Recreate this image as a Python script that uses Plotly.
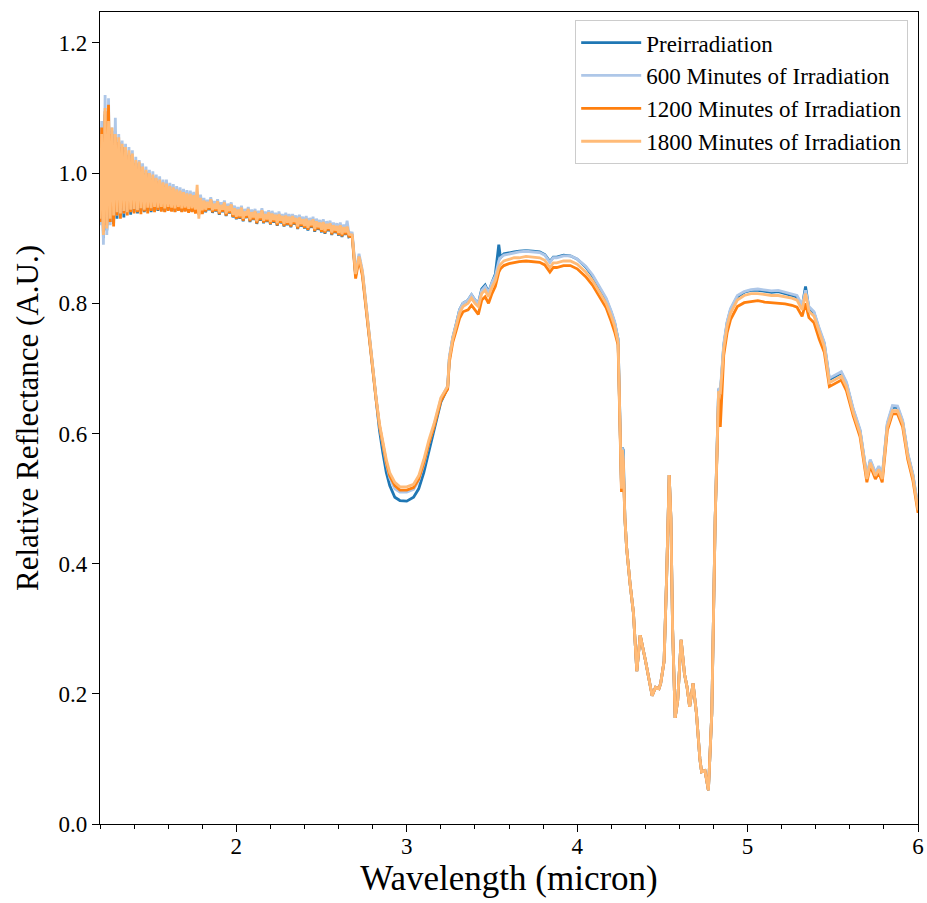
import numpy as np
import plotly.graph_objects as go

# ---------------- data ----------------
# wavelength sampling grids (micron)
wl_a = np.round(np.arange(1.20, 1.805, 0.01), 3)   # 61 points, noisy start
wl_b = np.round(np.arange(1.81, 2.665, 0.01), 3)   # 86 points
wl_c = [2.68, 2.70, 2.72, 2.74, 2.76, 2.78, 2.80, 2.82, 2.84, 2.86, 2.88, 2.90,
        2.93, 2.96, 3.00, 3.04, 3.07, 3.10, 3.13, 3.16, 3.20,
        3.23, 3.24, 3.25, 3.27, 3.29, 3.31, 3.33,
        3.36, 3.38, 3.40, 3.42, 3.44, 3.46, 3.48, 3.50, 3.52, 3.54, 3.55, 3.57,
        3.60, 3.63, 3.66, 3.70, 3.74, 3.78, 3.81, 3.84, 3.86, 3.88,
        3.92, 3.96, 4.00, 4.02, 4.05, 4.09, 4.13, 4.17, 4.20, 4.22, 4.24,
        4.25, 4.26, 4.265, 4.27]
wl_d = [4.28, 4.29, 4.31, 4.33, 4.35, 4.37, 4.40, 4.42, 4.44, 4.46, 4.48, 4.49,
        4.51, 4.525, 4.54, 4.55, 4.56, 4.575, 4.59, 4.61, 4.63, 4.645, 4.66,
        4.68, 4.70, 4.72, 4.73, 4.75, 4.77, 4.79, 4.81]
wl_e = [4.83, 4.84, 4.86, 4.88, 4.90,
        4.94, 4.98, 5.02, 5.06, 5.10, 5.14, 5.18, 5.22, 5.26,
        5.29, 5.32, 5.34, 5.36, 5.39, 5.42, 5.45, 5.48,
        5.52, 5.55, 5.58, 5.62, 5.66, 5.70,
        5.72, 5.75, 5.77, 5.79,
        5.82, 5.85, 5.88, 5.91, 5.94, 5.97, 6.00]

# CO / CO2 band region, where all four spectra overlap
band_d = [0.47, 0.425, 0.37, 0.325, 0.235, 0.29, 0.252, 0.225, 0.197, 0.21, 0.208, 0.216,
          0.25, 0.38, 0.536, 0.47, 0.30, 0.163, 0.19, 0.283, 0.23, 0.21, 0.18,
          0.216, 0.17, 0.10, 0.08, 0.082, 0.052, 0.17, 0.47]

# ---- Preirradiation ----
pre_a = [0.93, 1.07, 0.90, 1.09, 0.912, 1.075, 0.925, 1.065, 0.922, 1.055,
         0.93, 1.05, 0.935, 1.04, 0.932, 1.035, 0.94, 1.03, 0.936, 1.025,
         0.94, 1.018, 0.938, 1.015, 0.941, 1.008, 0.94, 1.003, 0.942, 0.998,
         0.94, 0.996, 0.943, 0.991, 0.942, 0.988, 0.943, 0.984, 0.941, 0.982,
         0.943, 0.978, 0.942, 0.976, 0.941, 0.973, 0.943, 0.971, 0.941, 0.969,
         0.942, 0.967, 0.94, 0.966, 0.941, 0.964, 0.939, 0.96, 0.938, 0.96,
         0.938]
pre_b = [0.957, 0.940, 0.955, 0.943, 0.959, 0.939, 0.952, 0.941, 0.956, 0.936,
         0.950, 0.940, 0.954, 0.934, 0.948, 0.938, 0.951, 0.932, 0.945, 0.929,
         0.943, 0.930, 0.946, 0.926, 0.940, 0.931, 0.944, 0.925, 0.939, 0.928,
         0.941, 0.922, 0.937, 0.927, 0.942, 0.923, 0.936, 0.925, 0.939, 0.921,
         0.937, 0.924, 0.935, 0.919, 0.936, 0.923, 0.933, 0.918, 0.934, 0.920,
         0.932, 0.917, 0.933, 0.921, 0.930, 0.914, 0.931, 0.918, 0.928, 0.915,
         0.929, 0.912, 0.926, 0.916, 0.928, 0.910, 0.925, 0.913, 0.923, 0.909,
         0.924, 0.907, 0.921, 0.911, 0.922, 0.905, 0.919, 0.908, 0.918, 0.904,
         0.919, 0.902, 0.916, 0.905, 0.917, 0.902]
pre_c = [0.904, 0.843, 0.872, 0.846, 0.798, 0.742, 0.695, 0.648, 0.605, 0.57, 0.54, 0.52,
         0.502, 0.497, 0.496, 0.502, 0.515, 0.54, 0.575, 0.605, 0.648,
         0.665, 0.67, 0.715, 0.747, 0.768, 0.79, 0.80,
         0.805, 0.813, 0.805, 0.80, 0.822, 0.828, 0.817, 0.832, 0.845, 0.89, 0.87, 0.876,
         0.878, 0.879, 0.88, 0.881, 0.88, 0.879, 0.875, 0.864, 0.871, 0.871,
         0.874, 0.873, 0.868, 0.863, 0.856, 0.842, 0.825, 0.806, 0.786, 0.77, 0.745,
         0.63, 0.52, 0.578, 0.575]
pre_e = [0.668, 0.66, 0.735, 0.77, 0.79,
         0.81, 0.817, 0.82, 0.82, 0.818, 0.817, 0.818, 0.815, 0.813,
         0.81, 0.795, 0.826, 0.792, 0.785, 0.76, 0.738, 0.683,
         0.688, 0.693, 0.677, 0.636, 0.604, 0.533,
         0.558, 0.538, 0.548, 0.533,
         0.614, 0.64, 0.64, 0.618, 0.568, 0.536, 0.485]

# ---- 600 minutes ----
m600_a = [0.92, 1.08, 0.89, 1.12, 0.905, 1.115, 0.92, 1.07, 0.93, 1.085,
          0.935, 1.06, 0.94, 1.05, 0.938, 1.045, 0.942, 1.04, 0.945, 1.035,
          0.944, 1.025, 0.946, 1.02, 0.945, 1.015, 0.947, 1.01, 0.946, 1.005,
          0.948, 1.003, 0.947, 0.998, 0.949, 0.995, 0.948, 0.99, 0.95, 0.99,
          0.949, 0.985, 0.95, 0.983, 0.948, 0.98, 0.95, 0.978, 0.949, 0.976,
          0.95, 0.974, 0.948, 0.973, 0.95, 0.971, 0.948, 0.968, 0.947, 0.967,
          0.946]
m600_b = [0.962, 0.947, 0.959, 0.950, 0.963, 0.946, 0.957, 0.948, 0.960, 0.944,
          0.955, 0.947, 0.958, 0.941, 0.953, 0.945, 0.955, 0.939, 0.950, 0.936,
          0.948, 0.937, 0.950, 0.933, 0.945, 0.938, 0.948, 0.932, 0.944, 0.935,
          0.945, 0.929, 0.942, 0.934, 0.946, 0.930, 0.941, 0.932, 0.943, 0.928,
          0.942, 0.931, 0.939, 0.926, 0.941, 0.930, 0.937, 0.925, 0.939, 0.927,
          0.937, 0.924, 0.937, 0.928, 0.935, 0.921, 0.936, 0.925, 0.933, 0.922,
          0.934, 0.919, 0.931, 0.923, 0.933, 0.917, 0.930, 0.920, 0.928, 0.916,
          0.929, 0.914, 0.926, 0.918, 0.927, 0.912, 0.924, 0.915, 0.923, 0.911,
          0.924, 0.909, 0.921, 0.912, 0.927, 0.909]
m600_c = [0.908, 0.848, 0.876, 0.85, 0.80, 0.745, 0.70, 0.655, 0.612, 0.58, 0.553, 0.532,
          0.515, 0.51, 0.51, 0.514, 0.528, 0.553, 0.585, 0.612, 0.653,
          0.668, 0.673, 0.718, 0.748, 0.768, 0.79, 0.80,
          0.805, 0.813, 0.805, 0.80, 0.82, 0.826, 0.816, 0.832, 0.842, 0.865, 0.87, 0.874,
          0.876, 0.878, 0.879, 0.88, 0.879, 0.878, 0.874, 0.863, 0.87, 0.87,
          0.873, 0.873, 0.868, 0.864, 0.857, 0.844, 0.827, 0.808, 0.788, 0.772, 0.745,
          0.625, 0.518, 0.578, 0.565]
m600_e = [0.67, 0.665, 0.738, 0.772, 0.792,
          0.812, 0.818, 0.821, 0.822, 0.82, 0.819, 0.82, 0.817, 0.815,
          0.812, 0.797, 0.82, 0.795, 0.787, 0.762, 0.74, 0.685,
          0.69, 0.695, 0.679, 0.638, 0.606, 0.535,
          0.56, 0.54, 0.55, 0.535,
          0.617, 0.643, 0.642, 0.62, 0.57, 0.538, 0.487]

# ---- 1200 minutes ----
m1200_a = [0.925, 1.07, 0.91, 1.095, 0.92, 1.105, 0.925, 1.06, 0.918, 1.055,
           0.935, 1.048, 0.93, 1.04, 0.938, 1.035, 0.935, 1.028, 0.94, 1.022,
           0.938, 1.015, 0.94, 1.01, 0.937, 1.005, 0.941, 1.0, 0.938, 0.995,
           0.942, 0.992, 0.94, 0.988, 0.943, 0.985, 0.941, 0.981, 0.94, 0.979,
           0.942, 0.975, 0.941, 0.973, 0.94, 0.97, 0.942, 0.968, 0.94, 0.966,
           0.941, 0.964, 0.939, 0.963, 0.94, 0.961, 0.938, 0.958, 0.936, 0.957,
           0.937]
m1200_b = [0.956, 0.941, 0.954, 0.944, 0.958, 0.940, 0.951, 0.942, 0.955, 0.937,
           0.949, 0.941, 0.953, 0.935, 0.947, 0.939, 0.950, 0.933, 0.944, 0.930,
           0.942, 0.931, 0.945, 0.927, 0.939, 0.932, 0.943, 0.926, 0.938, 0.929,
           0.940, 0.923, 0.936, 0.928, 0.941, 0.924, 0.935, 0.926, 0.938, 0.922,
           0.936, 0.925, 0.934, 0.920, 0.935, 0.924, 0.932, 0.919, 0.933, 0.921,
           0.931, 0.918, 0.932, 0.922, 0.929, 0.915, 0.930, 0.919, 0.927, 0.916,
           0.928, 0.913, 0.925, 0.917, 0.927, 0.911, 0.924, 0.914, 0.922, 0.910,
           0.923, 0.908, 0.920, 0.912, 0.921, 0.906, 0.918, 0.909, 0.917, 0.905,
           0.918, 0.903, 0.915, 0.906, 0.916, 0.903]
m1200_c = [0.902, 0.838, 0.868, 0.842, 0.795, 0.74, 0.696, 0.652, 0.612, 0.582, 0.556, 0.535,
           0.52, 0.513, 0.513, 0.517, 0.53, 0.555, 0.585, 0.61, 0.65,
           0.664, 0.668, 0.71, 0.74, 0.758, 0.777, 0.787,
           0.79, 0.797, 0.79, 0.783, 0.805, 0.81, 0.80, 0.815, 0.826, 0.848, 0.853, 0.858,
           0.861, 0.863, 0.864, 0.865, 0.864, 0.863, 0.859, 0.848, 0.855, 0.855,
           0.858, 0.858, 0.853, 0.848, 0.841, 0.828, 0.811, 0.793, 0.772, 0.756, 0.736,
           0.615, 0.51, 0.57, 0.555]
m1200_e = [0.655, 0.61, 0.72, 0.755, 0.775,
           0.795, 0.801, 0.803, 0.804, 0.802, 0.801, 0.801, 0.799, 0.797,
           0.794, 0.78, 0.80, 0.778, 0.77, 0.745, 0.725, 0.672,
           0.677, 0.682, 0.666, 0.627, 0.595, 0.525,
           0.55, 0.53, 0.54, 0.525,
           0.605, 0.63, 0.63, 0.61, 0.56, 0.528, 0.478]

# ---- 1800 minutes ----
m1800_a = [0.93, 1.06, 0.905, 1.10, 0.915, 1.08, 0.93, 1.07, 0.935, 1.06,
           0.94, 1.055, 0.938, 1.045, 0.942, 1.04, 0.94, 1.035, 0.944, 1.03,
           0.945, 1.02, 0.943, 1.018, 0.946, 1.01, 0.944, 1.005, 0.947, 1.0,
           0.946, 0.998, 0.948, 0.993, 0.947, 0.99, 0.948, 0.986, 0.946, 0.984,
           0.948, 0.98, 0.947, 0.978, 0.946, 0.975, 0.948, 0.973, 0.946, 0.971,
           0.947, 0.969, 0.945, 0.968, 0.946, 0.966, 0.944, 0.982, 0.93, 0.962,
           0.943]
m1800_b = [0.958, 0.944, 0.956, 0.947, 0.960, 0.943, 0.953, 0.945, 0.957, 0.940,
           0.951, 0.944, 0.955, 0.938, 0.949, 0.942, 0.952, 0.936, 0.946, 0.933,
           0.944, 0.934, 0.947, 0.930, 0.941, 0.935, 0.945, 0.929, 0.940, 0.932,
           0.942, 0.926, 0.938, 0.931, 0.943, 0.927, 0.937, 0.929, 0.940, 0.925,
           0.938, 0.928, 0.936, 0.923, 0.937, 0.927, 0.934, 0.922, 0.935, 0.924,
           0.933, 0.921, 0.934, 0.925, 0.931, 0.918, 0.932, 0.922, 0.929, 0.919,
           0.930, 0.916, 0.927, 0.920, 0.929, 0.914, 0.926, 0.917, 0.924, 0.913,
           0.925, 0.911, 0.922, 0.915, 0.923, 0.909, 0.920, 0.912, 0.919, 0.908,
           0.920, 0.906, 0.917, 0.909, 0.918, 0.906]
m1800_c = [0.905, 0.845, 0.872, 0.848, 0.80, 0.745, 0.70, 0.655, 0.615, 0.585, 0.56, 0.54,
           0.525, 0.518, 0.518, 0.522, 0.535, 0.56, 0.59, 0.615, 0.655,
           0.668, 0.672, 0.715, 0.745, 0.765, 0.785, 0.795,
           0.80, 0.808, 0.80, 0.795, 0.815, 0.82, 0.81, 0.825, 0.835, 0.855, 0.86, 0.865,
           0.868, 0.87, 0.87, 0.872, 0.871, 0.87, 0.866, 0.855, 0.862, 0.862,
           0.865, 0.865, 0.86, 0.855, 0.848, 0.835, 0.818, 0.80, 0.78, 0.765, 0.74,
           0.62, 0.515, 0.575, 0.56]
m1800_e = [0.665, 0.66, 0.73, 0.765, 0.785,
           0.805, 0.812, 0.815, 0.815, 0.813, 0.812, 0.812, 0.81, 0.808,
           0.805, 0.79, 0.815, 0.788, 0.78, 0.755, 0.733, 0.678,
           0.683, 0.688, 0.672, 0.632, 0.60, 0.53,
           0.555, 0.535, 0.545, 0.53,
           0.61, 0.635, 0.635, 0.615, 0.565, 0.533, 0.482]

names = ["Preirradiation", "600 Minutes of Irradiation",
         "1200 Minutes of Irradiation", "1800 Minutes of Irradiation"]
colors = ["#1f77b4", "#aec7e8", "#ff7f0e", "#ffbb78"]

wavelength = list(wl_a) + list(wl_b) + wl_c + wl_d + wl_e
series = [
    pre_a + pre_b + pre_c + band_d + pre_e,
    m600_a + m600_b + m600_c + band_d + m600_e,
    m1200_a + m1200_b + m1200_c + band_d + m1200_e,
    m1800_a + m1800_b + m1800_c + band_d + m1800_e,
]

FONT = "Liberation Serif"

fig = go.Figure()
for i, (nm, col, ys) in enumerate(zip(names, colors, series)):
    fig.add_trace(go.Scatter(
        x=wavelength, y=ys, mode="lines", name=nm, legendgroup=f"g{i}",
        line=dict(color=col, width=2.8),
    ))

fig.update_layout(
    width=927, height=903, autosize=False,
    margin=dict(l=100, r=9, t=12, b=79),
    paper_bgcolor="white", plot_bgcolor="white",
    font=dict(family=FONT, size=23, color="black"),
    showlegend=True,
    legend=dict(
        x=0.988, y=0.99, xanchor="right", yanchor="top",
        bgcolor="rgba(255,255,255,0.9)", bordercolor="#cccccc", borderwidth=1,
        font=dict(family=FONT, size=23, color="black"),
        tracegroupgap=0, itemwidth=60,
    ),
)

fig.update_xaxes(
    range=[1.2, 6.0], tickmode="linear", tick0=0, dtick=1, automargin=False,
    ticks="outside", ticklen=7, tickwidth=1.2, tickcolor="black",
    minor=dict(dtick=0.2, tick0=0, ticks="outside", ticklen=4, tickwidth=1, tickcolor="black"),
    showline=True, linecolor="black", linewidth=1.3, mirror=True,
    showgrid=False, zeroline=False, ticklabelstandoff=-6,
    tickfont=dict(family=FONT, size=23),
    title=dict(text="Wavelength (micron)", font=dict(family=FONT, size=35), standoff=6),
)
fig.update_yaxes(
    range=[0, 1.2476], tickmode="linear", tick0=0, dtick=0.2, tickformat=".1f",
    automargin=False,
    ticks="outside", ticklen=7, tickwidth=1.2, tickcolor="black",
    showline=True, linecolor="black", linewidth=1.3, mirror=True,
    showgrid=False, zeroline=False,
    tickfont=dict(family=FONT, size=23),
    title=dict(text="Relative Reflectance (A.U.)", font=dict(family=FONT, size=31), standoff=10),
)

fig.write_html("out.html")
